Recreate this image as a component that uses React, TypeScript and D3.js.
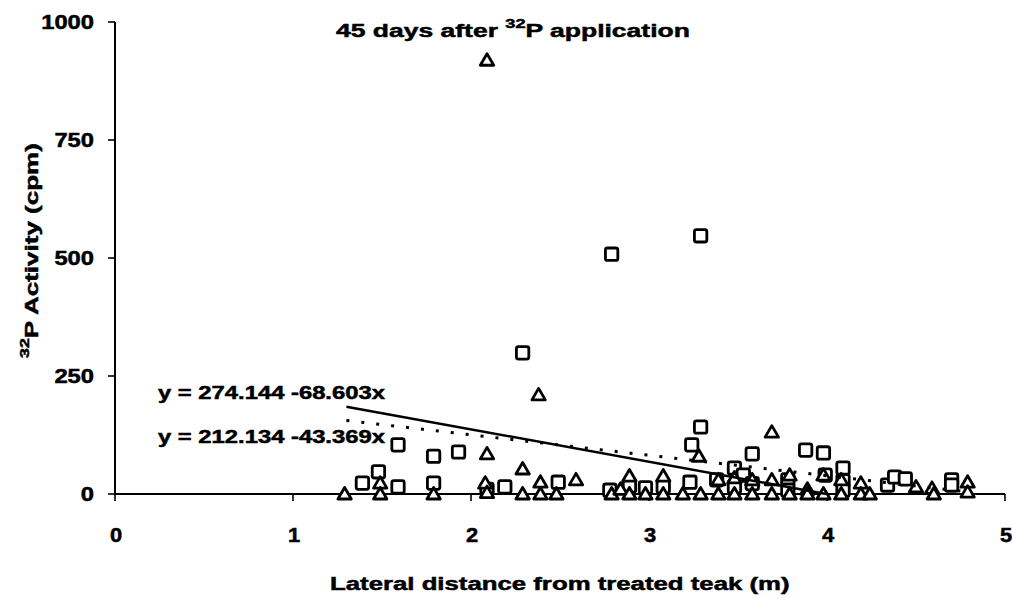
import React, { useLayoutEffect, useRef, useState } from "react";
import * as d3 from "d3";

// Soil samples around the treated teak: [distance (m), activity (cpm)]
const squareSeries: [number, number][] = [
  [1.39, 23], [1.48, 47], [1.59, 104], [1.59, 15], [1.79, 80], [1.79, 23],
  [1.93, 89], [2.09, 10], [2.19, 15], [2.29, 299], [2.49, 25], [2.78, 8],
  [2.79, 508], [2.89, 17], [2.98, 13], [3.08, 15], [3.23, 25], [3.24, 104],
  [3.29, 547], [3.29, 142], [3.38, 30], [3.48, 55], [3.48, 15], [3.53, 40],
  [3.58, 85], [3.58, 22], [3.78, 30], [3.78, 8], [3.88, 93], [3.98, 87],
  [3.99, 40], [4.09, 55], [4.09, 28], [4.09, 8], [4.34, 19], [4.38, 36],
  [4.44, 32], [4.7, 30], [4.7, 19],
];

const triangleSeries: [number, number][] = [
  [1.29, 0], [1.49, 23], [1.49, 0], [1.79, 0], [2.09, 919], [2.09, 85],
  [2.08, 23], [2.09, 3], [2.29, 53], [2.29, 0], [2.38, 210], [2.39, 25],
  [2.39, 0], [2.48, 0], [2.59, 30], [2.79, 0], [2.84, 10], [2.89, 38],
  [2.89, 0], [2.98, 0], [3.08, 38], [3.08, 0], [3.19, 0], [3.28, 80],
  [3.29, 0], [3.39, 30], [3.39, 0], [3.48, 34], [3.48, 0], [3.58, 30],
  [3.58, 0], [3.69, 131], [3.69, 30], [3.69, 0], [3.79, 40], [3.79, 0],
  [3.89, 10], [3.89, 0], [3.98, 40], [3.98, 0], [4.08, 30], [4.08, 0],
  [4.19, 23], [4.19, 0], [4.24, 0], [4.5, 15], [4.59, 12], [4.6, 0],
  [4.79, 25], [4.79, 4],
];

// Linear fits: [intercept, slope, x start, x end]
const fitSolid = [274.144, -68.603, 1.3, 3.996];
const fitDotted = [212.134, -43.369, 1.3, 4.8];
const fitLabels = ["y = 274.144 -68.603x", "y = 212.134 -43.369x"];

const xTicks = [0, 1, 2, 3, 4, 5];
const yTicks = [0, 250, 500, 750, 1000];

const FONT = "'Liberation Sans', Arial, sans-serif";
const DIGIT_W = 13.2;

type WideProps = {
  x: number;
  y: number;
  width: number;
  fontSize: number;
  anchor?: "start" | "middle" | "end";
  angle?: number;
  children: React.ReactNode;
};

// Heavy text widened along its own baseline to a set advance width.
function WideText({ x, y, width, fontSize, anchor = "start", angle = 0, children }: WideProps) {
  const ref = useRef<SVGTextElement>(null);
  const [k, setK] = useState(1);
  useLayoutEffect(() => {
    if (ref.current) {
      const w = ref.current.getComputedTextLength();
      if (w > 0) setK(width / w);
    }
  }, [width]);
  return (
    <text
      ref={ref}
      transform={`translate(${x},${y}) rotate(${angle}) scale(${k},1)`}
      fontSize={fontSize}
      textAnchor={anchor}
      fill="#000"
      stroke="#000"
      strokeWidth={0.5}
    >
      {children}
    </text>
  );
}

export default function App() {
  const x = d3.scaleLinear().domain([0, 5]).range([115, 1005]);
  const y = d3.scaleLinear().domain([0, 1000]).range([494, 22]);

  const fitLine = (f: number[]) =>
    d3
      .line<number>()
      .x((d) => x(d))
      .y((d) => y(f[0] + f[1] * d))([f[2], f[3]]) as string;

  const sq = 6.2;
  const triPath = (cx: number, cy: number) =>
    `M${cx},${cy - 6.5}L${cx + 6.7},${cy + 5}L${cx - 6.7},${cy + 5}Z`;

  return (
    <svg
      width={1012}
      height={598}
      style={{ position: "absolute", left: 0, top: 0, background: "#fff" }}
      fontFamily={FONT}
      fontWeight="bold"
    >
      <rect width={1012} height={598} fill="#fff" />

      {/* axes */}
      <line x1={x(0)} x2={x(5)} y1={y(0)} y2={y(0)} stroke="#000" strokeWidth={2} />
      <line x1={x(0)} x2={x(0)} y1={y(0)} y2={y(1000)} stroke="#000" strokeWidth={2} />
      {xTicks.map((t) => (
        <g key={"xt" + t}>
          <line x1={x(t)} x2={x(t)} y1={y(0)} y2={y(0) + 7} stroke="#000" strokeWidth={1.6} />
          <WideText x={x(t) + 1} y={542} width={DIGIT_W - 1} fontSize={20} anchor="middle">
            {t}
          </WideText>
        </g>
      ))}
      {yTicks.map((t) => (
        <g key={"yt" + t}>
          <line x1={x(0) - 7} x2={x(0)} y1={y(t)} y2={y(t)} stroke="#000" strokeWidth={1.6} />
          <WideText x={94} y={y(t) + 7} width={String(t).length * DIGIT_W} fontSize={20} anchor="end">
            {t}
          </WideText>
        </g>
      ))}

      {/* markers */}
      {squareSeries.map(([a, b], i) => (
        <rect
          key={"s" + i}
          x={x(a) - sq}
          y={y(b) - sq}
          width={sq * 2}
          height={sq * 2}
          rx={2}
          fill="#fff"
          stroke="#000"
          strokeWidth={2.8}
        />
      ))}
      {triangleSeries.map(([a, b], i) => (
        <path
          key={"t" + i}
          d={triPath(x(a), y(b))}
          fill="#fff"
          stroke="#000"
          strokeWidth={2.8}
          strokeLinejoin="round"
        />
      ))}

      {/* fitted lines */}
      <path d={fitLine(fitSolid)} fill="none" stroke="#000" strokeWidth={2.5} />
      <path
        d={fitLine(fitDotted)}
        fill="none"
        stroke="#000"
        strokeWidth={3}
        strokeDasharray="3 12"
      />

      <WideText x={158} y={399} width={227} fontSize={18}>
        {fitLabels[0]}
      </WideText>
      <WideText x={158} y={443} width={227} fontSize={18}>
        {fitLabels[1]}
      </WideText>

      {/* title */}
      <WideText x={336} y={37} width={354} fontSize={19}>
        45 days after <tspan dy={-9} fontSize={13}>32</tspan>
        <tspan dy={9}>P application</tspan>
      </WideText>

      {/* axis titles */}
      <WideText x={38} y={358} width={215} fontSize={19} angle={-90}>
        <tspan dy={-9} fontSize={13}>32</tspan>
        <tspan dy={9}>P Activity (cpm)</tspan>
      </WideText>
      <WideText x={330} y={590} width={460} fontSize={19}>
        Lateral distance from treated teak (m)
      </WideText>
    </svg>
  );
}
